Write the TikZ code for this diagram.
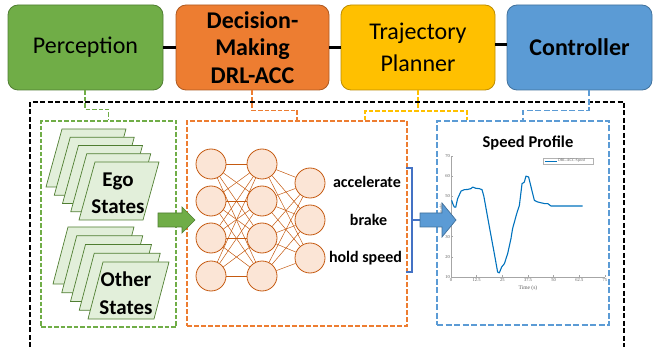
\documentclass[tikz,border=0pt]{standalone}
\usepackage{fontspec}
\setmainfont{Carlito}
\newfontfamily\plotfont{Liberation Serif}
\usetikzlibrary{calc}
\definecolor{pgreen}{HTML}{70AD47}
\definecolor{pgreenD}{HTML}{507E32}
\definecolor{lgreen}{HTML}{E2EFDA}
\definecolor{porange}{HTML}{ED7D31}
\definecolor{porangeD}{HTML}{AE5A21}
\definecolor{pyellow}{HTML}{FFC000}
\definecolor{pyellowD}{HTML}{BC8C00}
\definecolor{pblue}{HTML}{5B9BD5}
\definecolor{pblueD}{HTML}{41719C}
\definecolor{brace}{HTML}{4472C4}
\definecolor{peach}{HTML}{FBE5D6}
\definecolor{nnline}{HTML}{C55A11}
\definecolor{plotline}{HTML}{0072BD}
\begin{document}
\begin{tikzpicture}[x=1pt,y=-1pt,
  topbox/.style={draw=#1, rounded corners=10pt, minimum height=85pt, inner sep=0pt, align=center, line width=0.8pt},
  cdash/.style={draw=#1, line width=1.5pt, dash pattern=on 4.5pt off 2pt},
  dbox/.style={cdash=#1, rectangle, inner sep=0pt},
  neuron/.style={circle, draw=nnline, fill=peach, minimum size=30pt, inner sep=0pt, line width=0.8pt},
  nnedge/.style={draw=nnline, line width=0.5pt},
  para/.style={draw=pgreenD, fill=lgreen, line width=0.7pt, line join=miter},
  lbl/.style={font=\fontsize{16}{18}\selectfont\bfseries, inner sep=0pt},
  tick/.style={draw=gray!70, line width=0.4pt},
  ticklbl/.style={font=\plotfont\fontsize{4.5}{5}\selectfont, text=gray!70!black, inner sep=1pt}
]
\useasboundingbox (0,0) rectangle (655,347);

% top boxes
\node[topbox=pgreenD, fill=pgreen, minimum width=155pt, font=\fontsize{24}{28}\selectfont] (perc) at (85.5,47.5) {Perception};
\node[topbox=porangeD, fill=porange, minimum width=153pt, font=\fontsize{24}{27.5}\selectfont\bfseries] (dec) at (252.5,47.5) {Decision-\\Making\\DRL-ACC};
\node[topbox=pyellowD, fill=pyellow, minimum width=154pt, font=\fontsize{24}{32}\selectfont] (traj) at (418,47.5) {Trajectory\\Planner};
\node[topbox=pblueD, fill=pblue, minimum width=145pt, font=\fontsize{24}{28}\selectfont\bfseries] (ctrl) at (579.5,47.5) {Controller};
\draw[line width=3pt] (perc.east) -- (dec.west);
\draw[line width=3pt] (dec.east) -- (traj.west);
\draw[line width=3pt] ([yshift=3pt]traj.east) -- ([yshift=3pt]ctrl.west);

% big dashed frame
\draw[line width=1.8pt, dash pattern=on 5pt off 2.5pt] (30,347) -- (30,102) -- (624,102) -- (624,347);

% dashed boxes
\node[dbox=pgreen, minimum width=135pt, minimum height=206pt] (gbox) at (108.5,224) {};
\node[dbox=porange, dash pattern=on 5pt off 2pt, minimum width=220pt, minimum height=205pt] (obox) at (297,223.5) {};
\node[dbox=pblue, dash pattern=on 6pt off 2.5pt, minimum width=172pt, minimum height=204pt] (bbox) at (523,223) {};

% connectors
\draw[cdash=pgreen] ([xshift=-0.5pt]perc.south) -- ++(0,19) -| (gbox.north);
\draw[cdash=porange] ([xshift=-0.5pt]dec.south) -- ++(0,20) -| (obox.north);
\draw[cdash=pblue, dash pattern=on 6pt off 2.5pt] ([xshift=9.5pt]ctrl.south) -- ++(0,20) -| (bbox.north);
\coordinate (yl) at (365,111);
\coordinate (yr) at (467,111);
\draw[cdash=pyellow] (traj.south) -- (traj.south |- yl);
\draw[cdash=pyellow] (yl |- obox.north) -- (yl) -- (yr) -- (yr |- bbox.north);

% Ego states stack
\foreach \i in {0,...,4}{
  \pgfmathsetmacro{\px}{62+8.25*\i}
  \pgfmathsetmacro{\py}{129+8.25*\i}
  \draw[para] (\px,\py) -- ++(64,0) -- ++(-16,58) -- ++(-64,0) -- cycle;
}
\node[font=\fontsize{21}{27}\selectfont\bfseries, align=center, inner sep=0pt] (ego) at (118,193) {Ego\\States};
% Other states stack
\foreach \i in {0,...,4}{
  \pgfmathsetmacro{\px}{68+8.75*\i}
  \pgfmathsetmacro{\py}{227+8.75*\i}
  \draw[para] (\px,\py) -- ++(66,0) -- ++(-15,57) -- ++(-66,0) -- cycle;
}
\node[font=\fontsize{21}{28}\selectfont\bfseries, align=center, inner sep=0pt] (oth) at (126,293) {Other\\States};

% green block arrow
\draw[fill=pgreen, draw=pgreenD, line width=0.7pt, line join=miter] (158,213) -- (182,213) -- (182,207) -- (195,220) -- (182,233) -- (182,227) -- (158,227) -- cycle;

% neural net
\foreach \j/\y in {1/164,2/201,3/238,4/276}{
  \node[neuron] (a\j) at (211,\y) {};
  \node[neuron] (b\j) at (262,\y) {};
}
\foreach \j/\y in {1/183,2/220,3/258}{
  \node[neuron] (c\j) at (310,\y) {};
}
\foreach \i in {1,...,4}{\foreach \j in {1,...,4}{\draw[nnedge] (a\i) -- (b\j);}}
\foreach \i in {1,...,4}{\foreach \j in {1,...,3}{\draw[nnedge] (b\i) -- (c\j);}}
\node[lbl] (acc) at (367,182) {accelerate};
\node[lbl] (brk) at (368.5,220) {brake};
\node[lbl] (hold) at (365.5,258) {hold speed};

% bracket
\draw[draw=brace, line width=1.3pt] (406,168) -- (412,168) -- (412,272) -- (406,272);
\draw[draw=brace, line width=1.3pt] (412,220) -- (420,220);

% plot
\node[font=\fontsize{16.5}{18}\selectfont\bfseries, inner sep=0pt] (title) at (528,143) {Speed Profile};
\begin{scope}[shift={(451,277)}, x=2.053pt, y=2.017pt]
  \draw[tick] (0,0) -- (75,0);
  \draw[tick] (0,0) -- (0,60);
  \foreach \t in {0,12.5,25,37.5,50,62.5,75}{
    \draw[tick] (\t,0) -- (\t,1);
    \node[ticklbl, anchor=north] at (\t,0) {\t};
  }
  \foreach \v in {10,20,...,70}{
    \draw[tick] (0,\v-10) -- (0.8,\v-10);
    \node[ticklbl, anchor=east] at (0,\v-10) {\v};
  }
  \node[font=\plotfont\fontsize{5.5}{6}\selectfont, text=gray!70!black, inner sep=0pt] (tl) at (37.5,-5.5) {Time (s)};
  \node[font=\plotfont\fontsize{4.5}{5}\selectfont, text=gray!70!black, rotate=90, inner sep=0pt] (yl2) at (-4.5,30.5) {Speed (mph)};
  \draw[plotline, line width=1.1pt, line join=round]
    (0.3,38) -- (1,36) -- (1.6,34.7) -- (2.3,34.6) -- (3.2,38.8) -- (4.9,42.6) -- (6.5,43.3) -- (8,43.4) -- (9.7,43.8) -- (10.6,44.6) -- (12,44) -- (13.8,43.8) -- (15.1,43.3) -- (16,40) -- (18.7,24.8) -- (21.1,11.6) -- (22.7,2.5) -- (23.5,2) -- (24.7,5) -- (26,6.6) -- (27.6,11.6) -- (29.2,19) -- (30,24) -- (32,31.4) -- (33.3,35.5) -- (34.6,46.3) -- (35.7,47) -- (36.5,50) -- (37.8,49.6) -- (39,44.6) -- (40.6,38) -- (42.2,37.2) -- (45.5,36.4) -- (47.1,36.4) -- (48.7,35.2) -- (62.5,35.2) -- (64.1,35.2);
\end{scope}
% legend
\node[draw=gray!60, line width=0.3pt, minimum width=50pt, minimum height=6pt, inner sep=0pt] (leg) at (568,161) {};
\draw[plotline, line width=0.8pt] ([xshift=2pt]leg.west) -- ++(12,0);
\node[font=\plotfont\fontsize{3.8}{4}\selectfont, text=gray!70!black, inner sep=0pt, anchor=west] (legt) at ([xshift=15pt]leg.west) {DRL-ACC Speed};

% blue block arrow
\draw[fill=pblue, draw=pblueD, line width=0.7pt, line join=miter] (420,213) -- (442,213) -- (442,203) -- (456,220) -- (442,237) -- (442,227) -- (420,227) -- cycle;
\end{tikzpicture}
\end{document}
